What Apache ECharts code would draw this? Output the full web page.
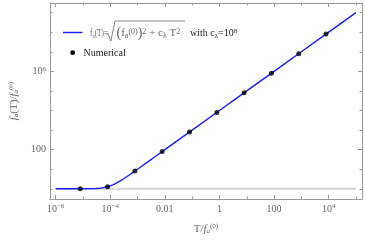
<!DOCTYPE html>
<html><head><meta charset="utf-8">
<script src="https://cdn.jsdelivr.net/npm/echarts@6/dist/echarts.min.js"></script>
<style>html,body{margin:0;padding:0;background:#fff}#c{width:366px;height:240px}</style>
</head><body><div id="c"></div>
<script>
// Analytic curve samples (T, f_a(T)/f_a(0))
const curveT = [1e-6, 1e-5, 2e-5, 3e-5, 4e-5, 5e-5, 6e-5, 8e-5, 1e-4, 1.3e-4, 1.6e-4, 2e-4, 2.5e-4, 3e-4, 4e-4, 5e-4, 7e-4, 1e-3, 1.5e-3, 2e-3, 5e-3, 1e-2, 1e-1, 1, 10, 100, 1e3, 1e4, 1e5];
const curveF = [1, 1.005, 1.02, 1.044, 1.077, 1.118, 1.166, 1.281, 1.414, 1.64, 1.887, 2.236, 2.693, 3.162, 4.123, 5.099, 7.071, 10.05, 15.03, 20.02, 50.01, 100, 1e3, 1e4, 1e5, 1e6, 1e7, 1e8, 1e9];
// Numerical points
const numT = [8e-6, 8e-5, 8e-4, 8e-3, 0.08, 0.8, 8, 80, 800, 8000];
const numF = [1.0, 1.28, 8.1, 80, 800, 8000, 8e4, 8e5, 8e6, 8e7];
// Reference line f = f_a(0)
const baseT = [1e-6, 1e5];
const baseF = [1, 1];
// Tick values
const xMajor = [1e-6, 1e-4, 1e-2, 1, 1e2, 1e4];
const xMinor = [1e-5, 1e-3, 1e-1, 10, 1e3, 1e5];
const yMajor = [1e2, 1e6];
const yMinor = [1, 10, 1e3, 1e4, 1e5, 1e7, 1e8, 1e9];
const xMin = Math.pow(10, -6.21), xMax = Math.pow(10, 5.22);
const yMin = Math.pow(10, -0.52), yMax = Math.pow(10, 9.49);

const FONT = 'Liberation Serif';
const GRAY = '#9a9a9a';
const LBL = '#666';
function R(color, size, extra) {
  return Object.assign({fontFamily: FONT, fontSize: size, color: color, fill: color}, extra || {});
}
function richSet(color, big, small, paren) {
  small = small || 7;
  paren = paren || 13;
  return {
    b: R(color, big, {lineHeight: 12, verticalAlign: 'middle'}),
    i: R(color, big, {lineHeight: 12, verticalAlign: 'middle', fontStyle: 'italic'}),
    s: R(color, small, {lineHeight: 7, verticalAlign: 'top'}),
    u: R(color, small, {lineHeight: 7, verticalAlign: 'bottom'}),
    ui: R(color, small, {lineHeight: 7, verticalAlign: 'bottom', fontStyle: 'italic'}),
    p: R(color, paren, {lineHeight: 12, verticalAlign: 'middle'})
  };
}
const richLbl = richSet(LBL, 10);
function xfmt(v) {
  const e = Math.round(Math.log10(v));
  if (e === -2) return '{b|0.01}';
  if (e === 0) return '{b|1}';
  if (e === 2) return '{b|100}';
  return '{b|10}{s|' + (e < 0 ? '\u2212' : '') + Math.abs(e) + '}';
}
function yfmt(v) {
  const e = Math.round(Math.log10(v));
  if (e === 2) return '{b|100}';
  return '{b|10}{s|' + e + '}';
}
function mkX(pos, vals, len, line, labels) {
  return {
    type: 'log', logBase: 10, position: pos, min: xMin, max: xMax,
    axisLine: {show: line, lineStyle: {color: GRAY, width: 1}},
    axisTick: {show: true, inside: true, length: len, customValues: vals, lineStyle: {color: GRAY, width: 1}},
    axisLabel: labels ? {show: true, customValues: vals, formatter: xfmt, margin: 4, rich: richLbl} : {show: false},
    splitLine: {show: false}, minorTick: {show: false}
  };
}
function mkY(pos, vals, len, line, labels) {
  return {
    type: 'log', logBase: 10, position: pos, min: yMin, max: yMax,
    axisLine: {show: line, lineStyle: {color: GRAY, width: 1}},
    axisTick: {show: true, inside: true, length: len, customValues: vals, lineStyle: {color: GRAY, width: 1}},
    axisLabel: labels ? {show: true, customValues: vals, formatter: yfmt, margin: 4, rich: richLbl} : {show: false},
    splitLine: {show: false}, minorTick: {show: false}
  };
}
const titleRich = richSet(LBL, 11);
const xAxes = [mkX('bottom', xMajor, 4, true, true), mkX('bottom', xMinor, 2.5, false, false), mkX('top', xMajor, 4, true, false), mkX('top', xMinor, 2.5, false, false)];
Object.assign(xAxes[0], {name: '{b|T/}{i|f}{ui|a}{s|(0)}', nameLocation: 'middle', nameGap: 24, nameTextStyle: {rich: titleRich}});
const yAxes = [mkY('left', yMajor, 4, true, true), mkY('left', yMinor, 2.5, false, false), mkY('right', yMajor, 4, true, false), mkY('right', yMinor, 2.5, false, false)];
Object.assign(yAxes[0], {name: '{i|f}{ui|a}{b|(T)/}{i|f}{ui|a}{s|(0)}', nameLocation: 'middle', nameGap: 20, nameRotate: 90, nameTextStyle: {rich: titleRich}});

const legRich = richSet(LBL, 10);
const radRich = richSet(LBL, 11, 8, 14);
const legDark = richSet('#222', 10);
const chart = echarts.init(document.getElementById('c'), null, {renderer: 'canvas'});
chart.setOption({
  animation: false,
  backgroundColor: '#fff',
  grid: {left: 39, right: 4, top: 3, bottom: 38, containLabel: false},
  xAxis: xAxes,
  yAxis: yAxes,
  series: [
    {type: 'line', name: 'base', data: baseT.map((t, i) => [t, baseF[i]]), symbol: 'none',
     lineStyle: {color: '#d6d6d6', width: 2}, z: 1, silent: true},
    {type: 'line', name: 'analytic', data: curveT.map((t, i) => [t, curveF[i]]), symbol: 'none',
     smooth: false, lineStyle: {color: '#1a1aff', width: 1.4}, z: 2},
    {type: 'scatter', name: 'Numerical', data: numT.map((t, i) => [t, numF[i]]), symbol: 'circle',
     symbolSize: 5, itemStyle: {color: '#000'}, z: 3}
  ],
  graphic: [
    {type: 'line', shape: {x1: 63, y1: 32.5, x2: 82.5, y2: 32.5}, style: {stroke: '#1a1aff', lineWidth: 1.4}},
    {type: 'circle', shape: {cx: 72.7, cy: 52.7, r: 2.4}, style: {fill: '#000'}},
    {type: 'text', x: 83.5, y: 53, style: {text: 'Numerical', fontFamily: FONT, fontSize: 10, fill: '#222', verticalAlign: 'middle'}},
    {type: 'text', x: 90, y: 33.5, scaleX: 0.72, style: {
      text: '{b|f}{u|a}{b|(T)=}', verticalAlign: 'middle', rich: legRich}},
    {type: 'polyline', shape: {points: [[106.5, 34.5], [108, 33.6], [110.8, 41], [115, 21], [185, 21]]},
     style: {stroke: LBL, lineWidth: 0.8, fill: null}},
    {type: 'text', x: 116.5, y: 33.5, style: {
      text: '{p|(}{b|f}{u|a}{s|(0)}{p|)}{s|2}{b| + c}{u|\u03BB}{b| T}{s|2}', verticalAlign: 'middle', rich: radRich}},
    {type: 'text', x: 190, y: 33.5, style: {
      text: '{b|with c}{u|\u03BB}{b|=10}{s|8}', verticalAlign: 'middle', rich: legDark}}
  ]
});
</script></body></html>
